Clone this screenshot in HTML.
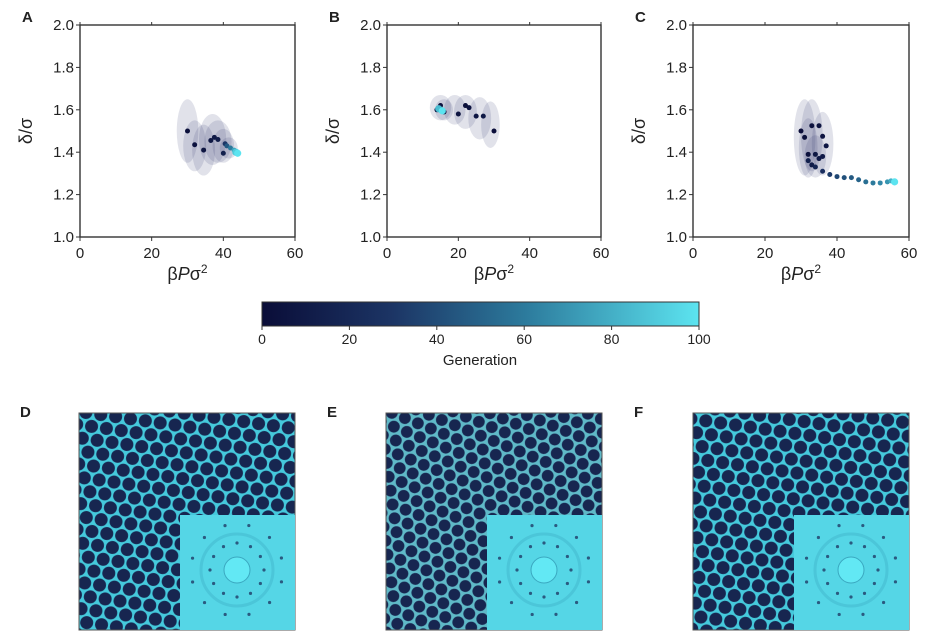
<!DOCTYPE html>
<html><head><meta charset="utf-8"><style>
body{margin:0;background:#fff;width:934px;height:642px;overflow:hidden;font-family:"Liberation Sans","DejaVu Sans",sans-serif}
svg{position:absolute;left:0;top:0}
text{font-family:"Liberation Sans","DejaVu Sans",sans-serif;fill:#222}
</style></head><body>
<svg id="fig" width="934" height="642">
<defs>
<linearGradient id="cmap" x1="0" x2="1" y1="0" y2="0">
<stop offset="0" stop-color="#0a0d38"/><stop offset="0.3" stop-color="#1c3565"/><stop offset="0.6" stop-color="#2c7a9c"/><stop offset="1" stop-color="#5ce4f0"/>
</linearGradient>
<pattern id="cells" width="15" height="26" patternUnits="userSpaceOnUse" patternTransform="rotate(8)">
<rect width="15" height="26" fill="#45c9dc"/>
<circle cx="7.5" cy="6.5" r="6.5" fill="#172650"/><circle cx="0" cy="19.5" r="6.5" fill="#172650"/><circle cx="15" cy="19.5" r="6.5" fill="#172650"/>
</pattern>
<pattern id="cells2" width="14" height="24.2" patternUnits="userSpaceOnUse" patternTransform="rotate(22)">
<rect width="14" height="24.2" fill="#5fb9c8"/>
<circle cx="7" cy="6.05" r="5.9" fill="#172650"/><circle cx="0" cy="18.15" r="5.9" fill="#172650"/><circle cx="14" cy="18.15" r="5.9" fill="#172650"/>
</pattern>
</defs>
</svg>
<script>
const xTicks=[0,20,40,60];
const yTicks=[1.0,1.2,1.4,1.6,1.8,2.0];
const aX=[30,32,34.5,36.5,37.5,38.5,40,40.5,41,42,43,43.5,44];
const aY=[1.50,1.435,1.41,1.455,1.47,1.46,1.395,1.44,1.43,1.42,1.41,1.40,1.395];
const aG=[2,4,6,8,10,12,14,30,45,60,75,90,100];
const aEll=[[30,1.50,3,0.15],[32,1.43,3.2,0.12],[34.5,1.41,3.2,0.12],[37,1.46,3.8,0.12],[38.5,1.45,3.8,0.1],[40,1.43,3,0.08],[41.5,1.42,2.5,0.05]];
const bX=[14,15,16,20,22,23,25,27,30,15,14.5,15.5];
const bY=[1.60,1.62,1.59,1.58,1.62,1.61,1.57,1.57,1.50,1.60,1.605,1.595];
const bG=[5,3,8,6,2,4,7,9,1,60,85,100];
const bEll=[[15,1.61,3,0.06],[22,1.59,3.2,0.08],[26,1.56,3.2,0.1],[29,1.53,2.6,0.11],[16,1.60,2.5,0.05],[19,1.6,3,0.07]];
const cX=[30,31,32,33,35,36,37,34,35,36,33,32,34,36,38,40,42,44,46,48,50,52,54,55,56];
const cY=[1.50,1.47,1.39,1.525,1.525,1.475,1.43,1.39,1.37,1.38,1.34,1.36,1.33,1.31,1.295,1.285,1.28,1.28,1.27,1.26,1.255,1.255,1.26,1.265,1.26];
const cG=[1,2,3,4,5,6,7,8,9,10,12,14,18,25,32,38,42,46,50,55,60,65,70,80,100];
const cEll=[[31,1.47,3,0.18],[33,1.48,3,0.17],[36,1.44,3,0.15],[34,1.38,3,0.1],[32,1.42,2.6,0.14]];
const cbTicks=[0,20,40,60,80,100];
const NS='http://www.w3.org/2000/svg';
const svg=document.getElementById('fig');
function mk(tag,attrs,parent){const e=document.createElementNS(NS,tag);for(const k in attrs)e.setAttribute(k,attrs[k]);(parent||svg).appendChild(e);return e;}
function cmap(g){const s=[[0,[10,13,56]],[30,[28,53,101]],[60,[44,122,156]],[100,[92,228,240]]];for(let i=1;i<s.length;i++){if(g<=s[i][0]){const t=(g-s[i-1][0])/(s[i][0]-s[i-1][0]);const c=s[i-1][1].map((v,j)=>Math.round(v+t*(s[i][1][j]-v)));return `rgb(${c})`;}}return 'rgb(92,228,240)';}
const T=25,B=237;
function panel(L,R,xs,ys,gs,ells,letter,name){
 const g=mk('g',{});
 
 
 const sx=v=>L+(v-0)/60*(R-L), sy=v=>B-(v-1)/1*(B-T);
 const lt=mk('text',{x:L-58,y:22,'font-size':15,'font-weight':'bold',fill:'#111'},g);lt.textContent=letter;
 
 
 ells.forEach(e=>{const el=mk('ellipse',{cx:sx(e[0]),cy:sy(e[1]),rx:e[2]/60*(R-L),ry:e[3]*(B-T),fill:'#2a2f6a','fill-opacity':0.14},g);
  
  });
 xs.forEach((x,i)=>{const p=mk('circle',{cx:sx(x),cy:sy(ys[i]),r:gs[i]>80?3.6:2.5,fill:cmap(gs[i])},g);
  
  });
 const fr=mk('rect',{x:L,y:T,width:R-L,height:B-T,fill:'none',stroke:'#333','stroke-width':1.4},g);
 
 
 xTicks.forEach(v=>{mk('line',{x1:sx(v),x2:sx(v),y1:B,y2:B+4,stroke:'#333'},g);mk('line',{x1:sx(v),x2:sx(v),y1:T,y2:T-3,stroke:'#333'},g);
  const t=mk('text',{x:sx(v),y:B+21,'font-size':15,'text-anchor':'middle'},g);t.textContent=v;
  
  });
 yTicks.forEach(v=>{mk('line',{x1:L,x2:L-4,y1:sy(v),y2:sy(v),stroke:'#333'},g);
  const t=mk('text',{x:L-6,y:sy(v)+5,'font-size':15,'text-anchor':'end'},g);t.textContent=v.toFixed(1);
  
  });
 const xl=mk('text',{x:(L+R)/2,y:B+43,'font-size':18,'text-anchor':'middle'},g);xl.innerHTML='β<tspan font-style="italic">P</tspan>σ<tspan dy="-7" font-size="12">2</tspan>';
 
 
 const yl=mk('text',{x:0,y:0,'font-size':18,'text-anchor':'middle',transform:`translate(${L-48},${(T+B)/2}) rotate(-90)`},g);yl.textContent='δ/σ';
 
 
}
panel(80,295,aX,aY,aG,aEll,'A','panel-a');
panel(387,601,bX,bY,bG,bEll,'B','panel-b');
panel(693,909,cX,cY,cG,cEll,'C','panel-c');
const cb=mk('rect',{x:262,y:302,width:437,height:24,fill:'url(#cmap)',stroke:'#333','stroke-width':1});


cbTicks.forEach(v=>{const x=262+v/100*437;mk('line',{x1:x,x2:x,y1:326,y2:330,stroke:'#333'});
 const t=mk('text',{x:x,y:344,'font-size':14,'text-anchor':'middle'});t.textContent=v;
 
 });
const gl=mk('text',{x:480,y:365,'font-size':15,'text-anchor':'middle'});gl.textContent='Generation';


function img(L,letter,name,pat){
 const g=mk('g',{});
 
 
 const lt=mk('text',{x:L-59,y:417,'font-size':15,'font-weight':'bold',fill:'#111'},g);lt.textContent=letter;
 mk('rect',{x:L,y:413,width:216,height:217,fill:`url(#${pat})`,stroke:'#555','stroke-width':1},g);
 const ins=mk('rect',{x:L+101,y:515,width:115,height:115,fill:'#55d6e6'},g);
 
 
 const cx=L+158,cy=570;
 mk('circle',{cx:cx,cy:cy,r:36,fill:'none',stroke:'#3aa8c0','stroke-width':3,'stroke-opacity':0.35},g);
 mk('circle',{cx:cx,cy:cy,r:13,fill:'#62e8f4',stroke:'#3aa8c0','stroke-width':1},g);
 for(let k=0;k<12;k++){const a=k*Math.PI/6;mk('circle',{cx:cx+27*Math.cos(a),cy:cy+27*Math.sin(a),r:1.6,fill:'#2a5a80'},g);
  mk('circle',{cx:cx+46*Math.cos(a+0.26),cy:cy+46*Math.sin(a+0.26),r:1.6,fill:'#2a5a80'},g);}
}
img(79,'D','image-d','cells');
img(386,'E','image-e','cells2');
img(693,'F','image-f','cells');
</script>
</body></html>
